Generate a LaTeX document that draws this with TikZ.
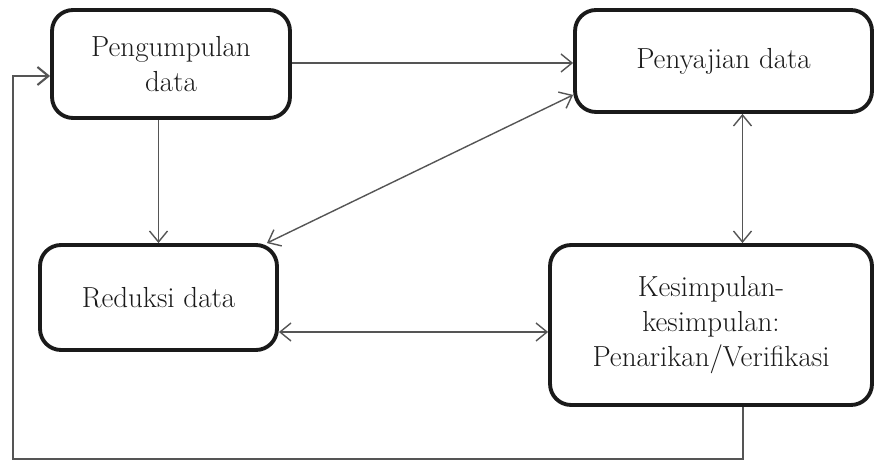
\documentclass[tikz,border=0pt]{standalone}
\usepackage{fontspec}
\usepackage{tikz}
\usetikzlibrary{arrows.meta,positioning,calc}
\usepackage{xcolor}
\definecolor{ink}{HTML}{1A1A1A}
\definecolor{linegray}{HTML}{555555}
\tikzset{
  box/.style={draw=ink,line width=2.2pt,rounded corners=0.42cm,fill=white,align=center,
    font=\fontsize{16.5}{20}\selectfont,text=ink,inner sep=2pt},
  arrow/.style={-{Straight Barb[length=2.2mm,width=3.6mm]},draw=linegray,line width=0.8pt},
  biarrow/.style={{Straight Barb[length=2.2mm,width=3.6mm]}-{Straight Barb[length=2.2mm,width=3.6mm]},draw=linegray,line width=0.8pt},
  feedback/.style={-{Straight Barb[length=2.2mm,width=3.6mm]},draw=linegray,line width=1.2pt}
}

\begin{document}
\begin{tikzpicture}[x=0.02cm,y=-0.02cm]
        \useasboundingbox (0,0) rectangle (874,462);
        \node[box,minimum width=4.76cm,minimum height=2.16cm] (kumpul) at (171,64) {Pengumpulan\\data};
        \node[box,minimum width=5.94cm,minimum height=2.04cm] (saji) at (723.5,61) {Penyajian data};
        \node[box,minimum width=4.74cm,minimum height=2.1cm] (reduksi) at (158.5,297.5) {Reduksi data};
        \node[box,minimum width=6.44cm,minimum height=3.2cm] (simpul) at (711,325) {Kesimpulan-\\kesimpulan:\\Penarikan/Verifikasi};
        \coordinate (loop) at (13,459);
        \draw[arrow] ([yshift=0.02cm]kumpul.east) -- ([yshift=0.02cm]kumpul.east -| saji.west);
        \draw[arrow] (reduksi.north |- kumpul.south) -- (reduksi.north);
        \draw[biarrow] ([xshift=-0.24cm]reduksi.north east) -- ([yshift=0.38cm]saji.south west);
        \draw[biarrow] ([xshift=0.38cm]saji.south) -- ([xshift=0.38cm]saji.south |- simpul.north);
        \draw[biarrow] ([yshift=-0.69cm]reduksi.east) -- ([yshift=-0.69cm]reduksi.east -| simpul.west);
        \draw[feedback] ([xshift=0.64cm]simpul.south) |- (loop) |- ([yshift=-0.24cm]kumpul.west);
      \end{tikzpicture}
\end{document}
